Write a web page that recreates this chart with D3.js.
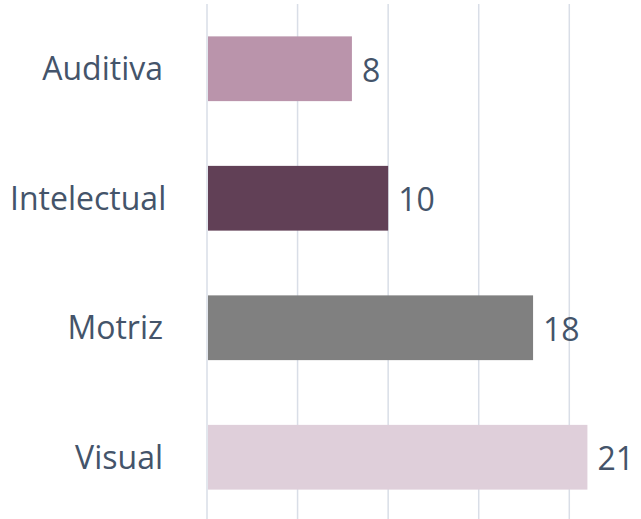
<!DOCTYPE html>
<html><head><meta charset="utf-8">
<script src="https://cdn.jsdelivr.net/npm/d3@7"></script>
<style>html,body{margin:0;padding:0;background:#fff;}svg{display:block;}</style>
</head><body>
<script>
const categories = ["Auditiva", "Intelectual", "Motriz", "Visual"];
const values = [8, 10, 18, 21];
const colors = ["#BA94AB", "#614056", "#808080", "#DFCFDA"];
const gridTicks = [0, 5, 10, 15, 20];

const W = 641, H = 519;
const svg = d3.select("body").append("svg").attr("width", W).attr("height", H);

const x = d3.scaleLinear().domain([0, 20]).range([207, 569.3]);
const y = d3.scaleBand().domain(categories).range([4, 522]).paddingInner(0.5).paddingOuter(0.25);

svg.append("g").selectAll("line").data(gridTicks).join("line")
  .attr("x1", d => x(d)).attr("x2", d => x(d))
  .attr("y1", 4).attr("y2", H)
  .attr("stroke", "#D9DEE7").attr("stroke-width", 1.5);

svg.append("g").selectAll("rect").data(categories).join("rect")
  .attr("x", x(0) + 1)
  .attr("y", d => y(d))
  .attr("width", (d, i) => x(values[i]) - x(0) - 1)
  .attr("height", y.bandwidth())
  .attr("fill", (d, i) => colors[i]);

const font = "'Open Sans', sans-serif";
svg.append("g").selectAll("text").data(categories).join("text")
  .attr("x", 163)
  .attr("y", d => y(d) + y.bandwidth() / 2)
  .attr("dy", "0.36em")
  .attr("text-anchor", "end")
  .attr("font-family", font).attr("font-size", 32)
  .attr("fill", "#44546A")
  .text(d => d)
  .each(function() {
    const b = this.getBBox();
    if (b.x < 10) d3.select(this).attr("x", 163 + (10 - b.x));
  });

svg.append("g").selectAll("text").data(categories).join("text")
  .attr("x", (d, i) => x(values[i]) + 10)
  .attr("y", d => y(d) + y.bandwidth() / 2)
  .attr("dy", "0.4em")
  .attr("font-family", font).attr("font-size", 32)
  .attr("fill", "#44546A")
  .text((d, i) => values[i]);
</script>
</body></html>
